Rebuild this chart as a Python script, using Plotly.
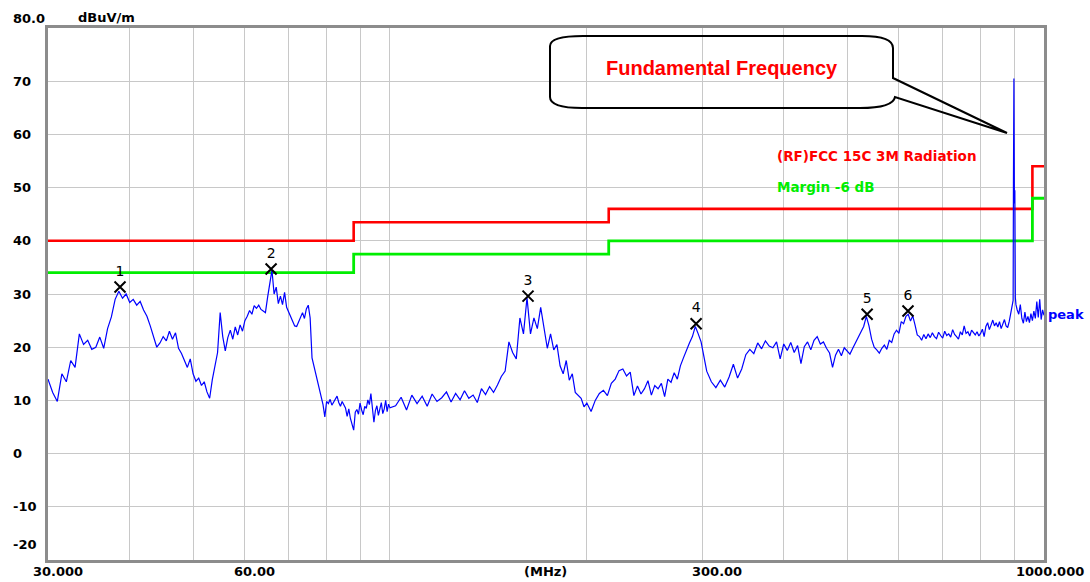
import plotly.graph_objects as go

# ---------------- data ----------------
freq_a = [30.0,30.5,31.0,31.5,32.0,32.5,33.0,33.5,34.0,34.5,
          35.0,35.5,36.0,36.5,37.0,37.5,38.0,38.5,39.0,39.5,
          40.0,40.5,41.0,41.5,42.0,42.5,43.0,43.5,44.0,44.5,
          45.0,45.5,46.0,46.5,47.0,47.5,48.0,48.5,49.0,49.5,
          50.0,50.5,51.0,51.5,52.0,52.5,53.0,53.5,54.0,54.5,
          55.0,55.5,56.0,56.5,57.0,57.5,58.0,58.5,59.0,59.5,
          60.0,60.5,61.0,61.5,62.0,62.5,63.0,63.5,64.0,64.5,
          65.0,65.5,66.0,66.5,67.0,67.5,68.0,68.5,69.0,69.5,
          70.0,70.5,71.0,71.5,72.0,72.5,73.0,73.5,74.0,74.5,
          75.0,75.5,76.0,76.5,77.0,77.5,78.0,78.5,79.0,79.5,
          80.0,80.5,81.0,81.5,82.0,82.5,83.0,83.5,84.0,84.5,
          85.0,85.5,86.0,86.5,87.0,87.5,88.0,88.5,89.0,89.5,
          90.0,90.5,91.0,91.5,92.0,92.5,93.0,93.5,94.0,94.5,
          95.0,95.5,96.0,96.5,97.0,97.5,98.0,98.5,99.0,99.5,
          100.0]
level_a = [14.0,11.5,9.8,15.0,13.5,17.5,16.2,22.5,20.5,21.3,
           19.6,20.0,21.9,19.8,23.5,25.7,29.0,30.5,29.2,30.0,
           28.4,29.0,27.9,28.6,27.0,25.8,24.0,22.2,20.0,20.8,
           22.0,21.2,23.0,21.5,22.7,19.8,18.8,17.5,16.2,17.8,
           15.0,13.6,14.2,12.8,13.5,11.6,10.4,13.9,16.6,19.0,
           26.5,22.0,19.3,21.8,23.2,21.5,23.8,22.3,24.2,23.0,
           25.0,25.8,26.9,26.2,27.8,27.3,27.9,27.1,26.8,26.5,
           29.4,31.8,34.5,30.0,31.3,28.2,29.6,28.0,30.3,27.5,
           26.6,25.8,24.9,24.0,23.9,24.8,25.6,26.5,25.4,27.2,
           27.9,25.5,18.0,16.5,14.8,13.2,11.8,10.6,9.2,6.9,
           9.8,9.4,10.2,9.1,9.7,10.3,10.8,9.6,8.9,9.8,
           9.1,8.6,7.0,8.4,6.6,5.5,4.4,7.8,8.3,7.4,
           9.5,8.2,7.3,8.9,8.5,10.1,9.2,11.3,8.6,5.9,
           8.1,9.0,7.2,8.8,9.6,7.5,8.4,10.0,7.9,9.3,
           8.6]

freq_b = [102,104,106,108,110,112,114,116,118,120,
          122,124,126,128,130,132,134,136,138,140,
          142,144,146,148,150,152,154,156,158,160,
          162,164,166,168,170,172,174,176,178,180,
          182,184,186,188,190,192,194,196,198,200,
          203,206,209,212,215,218,221,224,227,230,
          233,236,239,242,245,248,251,254,257,260,
          263,266,269,272,275,278,281,284,287,290,
          293,296,299]
level_b = [9.0,10.6,8.2,11.0,9.4,10.8,8.9,11.2,9.8,10.5,
           11.6,9.7,11.3,10.1,11.8,10.4,11.0,9.6,12.2,11.1,
           12.6,11.5,12.9,14.5,15.5,21.0,19.0,17.8,25.5,22.5,
           29.3,22.5,25.5,23.5,27.5,24.0,19.8,22.5,19.5,20.5,
           16.5,15.0,17.5,13.8,15.0,11.5,11.0,10.4,8.8,9.5,
           7.9,10.0,11.3,11.9,10.9,13.2,14.0,15.6,15.9,14.6,
           15.3,10.9,12.7,11.2,12.2,13.7,11.0,12.8,12.2,13.2,
           10.7,14.0,13.4,15.2,14.0,16.5,18.0,19.5,20.8,22.0,
           23.9,22.5,21.0]

freq_c = [305,310,315,320,325,330,335,340,345,
          350,355,360,365,370,375,380,385,390,395,
          400,405,410,415,420,425,430,435,440,445,
          450,455,460,465,470,475,480,485,490,495,
          500,505,510,515,520,525,530,535,540,545,
          550,555,560,565,570,575,580,585,590,595,
          600,605,610,615,620,625,630,635,640,645,
          650,655,660,665,670,675,680,685,690,695,
          700,705,710,715,720,725,730,735,740,745,
          750,755,760,765,770,775,780,785,790,795,
          800,805,810,815,820,825,830,835,840,845,
          850,855,860,865,870,875,880,885,890,
          894,897,898,899.5,901,902.5,904,906,
          910,915,920,925,930,935,940,945,950,955,
          960,965,970,975,980,985,990,995,1000]
level_c = [15.5,13.5,12.4,13.8,12.5,14.4,16.8,14.2,15.9,
           18.6,19.6,18.8,20.8,19.7,21.2,20.2,19.9,21.0,17.8,
           20.6,19.4,20.9,19.0,20.3,16.9,20.1,21.0,19.5,21.3,
           22.0,20.6,21.0,19.8,18.9,16.2,18.5,19.6,18.4,19.9,
           19.3,18.7,19.8,20.9,22.0,23.0,23.9,25.8,24.0,21.5,
           20.0,19.5,18.9,19.8,20.4,19.6,21.3,20.9,22.5,23.2,
           22.6,24.8,24.4,25.8,26.2,24.9,25.9,24.2,22.3,22.0,
           21.3,22.4,21.6,22.5,21.8,22.7,22.0,21.6,22.8,22.2,
           21.7,23.0,22.2,22.5,21.9,23.3,22.4,22.0,21.5,22.9,
           22.3,24.0,22.6,22.9,22.1,23.2,22.7,22.3,22.9,22.1,
           22.6,23.4,22.0,23.9,24.6,23.3,24.2,25.1,24.0,24.6,
           23.8,24.8,23.5,24.3,25.2,24.0,23.7,24.9,26.3,
           27.3,28.8,50.8,70.5,47.0,49.5,29.4,28.0,
           27.0,26.2,28.0,25.4,24.5,26.6,24.8,25.8,24.6,26.3,
           25.0,26.8,25.4,28.6,25.6,29.0,25.2,27.0,26.0]

limit_freq = [30, 88, 216, 960, 1000]
limit_level = [40, 43.5, 46, 54, 54]
margin_db = -6

marker_freq = [38.66, 65.8, 162.6, 293.8, 536.5, 619.5]
marker_level = [31.3, 34.7, 29.6, 24.4, 26.2, 26.8]
marker_labels = ["1", "2", "3", "4", "5", "6"]

y_tick_vals = [80, 70, 60, 50, 40, 30, 20, 10, 0, -10, -20]
y_tick_text = ["80.0", "70", "60", "50", "40", "30", "20", "10", "0", "-10", "-20"]
x_grid_vals = [40, 50, 60, 70, 80, 90, 100, 200, 300, 400, 500, 600, 700, 800, 900]

limit_name = "(RF)FCC 15C 3M Radiation"
margin_name = "Margin -6 dB"
trace_name = "peak"
callout_text = "Fundamental Frequency"

# ---------------- figure ----------------
W, H = 1090, 582
L, R, T, B = 48, 1044, 28, 560   # plot area in px


def px(xp):
    return (xp - L) / (R - L)


def py(yp):
    return (B - yp) / (B - T)


freq = freq_a + freq_b + freq_c
level = level_a + level_b + level_c

RED = "#ff0000"
GREEN = "#00ee00"
BLUE = "#0000ff"
FONT = "DejaVu Sans"

fig = go.Figure()
fig.add_trace(go.Scatter(x=limit_freq, y=limit_level, mode="lines", line_shape="hv",
                         line=dict(color=RED, width=2.6), name=limit_name, hoverinfo="skip"))
fig.add_trace(go.Scatter(x=limit_freq, y=[v + margin_db for v in limit_level], mode="lines",
                         line_shape="hv", line=dict(color=GREEN, width=2.8), name=margin_name,
                         hoverinfo="skip"))
fig.add_trace(go.Scatter(x=freq, y=level, mode="lines", line=dict(color=BLUE, width=1.2),
                         name=trace_name))
fig.add_trace(go.Scatter(x=marker_freq, y=marker_level, mode="markers+text",
                         text=marker_labels, textposition="top center",
                         textfont=dict(family=FONT, size=14, color="black"),
                         marker=dict(symbol="x-thin-open", size=11, color="black",
                                     line=dict(color="black", width=2))))

ann = []
# y labels
for v, t in zip(y_tick_vals, y_tick_text):
    ys = 0
    if v == 80:
        ys = 10
    if v == -20:
        ys = 16
    ann.append(dict(x=px(11), y=v, xref="paper", yref="y", text=t, showarrow=False,
                    xanchor="left", yanchor="middle", yshift=ys,
                    font=dict(family=FONT, size=13, color="black", weight="bold")))
ann.append(dict(x=px(76), y=py(18), xref="paper", yref="paper", text="dBuV/m", showarrow=False,
                xanchor="left", yanchor="middle",
                font=dict(family=FONT, size=13, color="black", weight="bold")))
# x labels
for cx, t in [(58, "30.000"), (254, "60.00"), (545, "(MHz)"), (717, "300.00"), (1050, "1000.000")]:
    ann.append(dict(x=px(cx), y=py(571), xref="paper", yref="paper", text=t, showarrow=False,
                    xanchor="center", yanchor="middle",
                    font=dict(family=FONT, size=13, color="black", weight="bold")))
# legend-like texts
ann.append(dict(x=px(775), y=py(155.5), xref="paper", yref="paper", text=limit_name,
                showarrow=False, xanchor="left", yanchor="middle",
                font=dict(family=FONT, size=13.5, color=RED, weight="bold")))
ann.append(dict(x=px(775), y=py(187), xref="paper", yref="paper", text=margin_name,
                showarrow=False, xanchor="left", yanchor="middle",
                font=dict(family=FONT, size=13.5, color=GREEN, weight="bold")))
ann.append(dict(x=px(1046), y=py(314), xref="paper", yref="paper", text=trace_name,
                showarrow=False, xanchor="left", yanchor="middle",
                font=dict(family=FONT, size=13, color=BLUE, weight="bold")))
ann.append(dict(x=px(722), y=py(68), xref="paper", yref="paper", text=callout_text,
                showarrow=False, xanchor="center", yanchor="middle",
                font=dict(family="Liberation Sans", size=20, color=RED, weight="bold")))


def P(a, b):
    return f"{px(a):.5f},{py(b):.5f}"


path = (f"M {P(583,36)} L {P(862,36)} Q {P(893,36)} {P(893,48)} L {P(893,78)} "
        f"L {P(1007,133)} L {P(895,97)} Q {P(893,108)} {P(860,108)} "
        f"L {P(582,108)} Q {P(550,108)} {P(550,97)} L {P(550,46)} Q {P(550,36)} {P(583,36)} Z")

fig.update_layout(
    width=W, height=H,
    margin=dict(l=L, r=W - R, t=T, b=H - B, autoexpand=False),
    paper_bgcolor="white", plot_bgcolor="white",
    showlegend=False,
    annotations=ann,
    shapes=[dict(type="path", xref="paper", yref="paper", path=path,
                 line=dict(color="black", width=2), fillcolor="rgba(0,0,0,0)", layer="above")],
    xaxis=dict(type="log", range=[1.4771213, 3.0], tickvals=x_grid_vals, showticklabels=False,
               ticks="", showgrid=True, gridcolor="#c8c8c8", gridwidth=1,
               showline=True, mirror=True, linecolor="#8c8c8c", linewidth=2.5, zeroline=False),
    yaxis=dict(range=[-20, 80], tickvals=y_tick_vals, showticklabels=False, ticks="",
               showgrid=True, gridcolor="#c8c8c8", gridwidth=1,
               showline=True, mirror=True, linecolor="#8c8c8c", linewidth=2.5, zeroline=False),
)

fig.write_html("out.html", config={"displayModeBar": False},
               post_script="document.body.style.margin='0';document.body.style.overflow='hidden';")
